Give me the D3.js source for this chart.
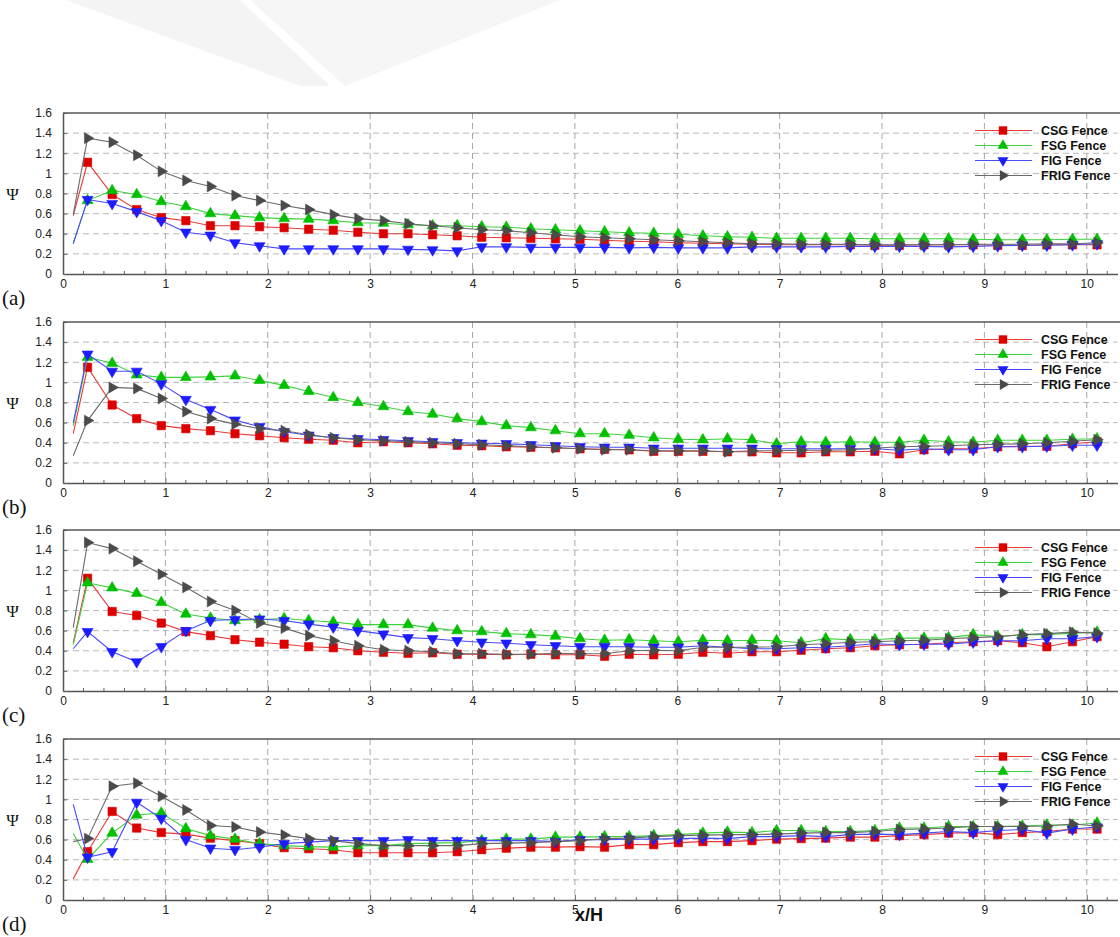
<!DOCTYPE html>
<html><head><meta charset="utf-8">
<script src="https://cdn.jsdelivr.net/npm/d3@7"></script>
<style>
html,body{margin:0;padding:0;background:#fff;}
svg{display:block;}
</style></head>
<body>
<svg id="chart" width="1120" height="937"></svg>
<script>
// x/H positions of the sampling points
const xPos = [0.1,0.24,0.48,0.72,0.96,1.20,1.44,1.68,1.92,2.16,2.40,2.64,2.88,3.13,3.37,3.61,3.85,4.09,4.33,4.57,4.81,5.05,5.29,5.53,5.77,6.01,6.25,6.49,6.73,6.97,7.21,7.45,7.69,7.93,8.17,8.41,8.65,8.89,9.13,9.37,9.61,9.86,10.10];

const seriesNames = ["CSG Fence","FSG Fence","FIG Fence","FRIG Fence"];
const panelLabels = ["(a)","(b)","(c)","(d)"];
const yTicks = [0,0.2,0.4,0.6,0.8,1,1.2,1.4,1.6];
const xTicks = [0,1,2,3,4,5,6,7,8,9,10];

// Panel (a)
const csgA = [0.58,1.11,0.79,0.64,0.56,0.53,0.48,0.48,0.47,0.46,0.445,0.435,0.415,0.40,0.40,0.39,0.38,0.365,0.36,0.355,0.35,0.345,0.335,0.325,0.32,0.31,0.305,0.30,0.295,0.29,0.29,0.29,0.29,0.285,0.285,0.29,0.29,0.29,0.285,0.285,0.29,0.29,0.29];
const fsgA = [0.31,0.73,0.83,0.79,0.72,0.67,0.60,0.58,0.56,0.55,0.545,0.53,0.51,0.505,0.49,0.48,0.48,0.47,0.465,0.45,0.44,0.43,0.42,0.41,0.405,0.395,0.38,0.37,0.365,0.355,0.355,0.355,0.355,0.35,0.35,0.35,0.35,0.345,0.34,0.34,0.34,0.345,0.345];
const figA = [0.30,0.74,0.70,0.62,0.53,0.415,0.385,0.31,0.28,0.25,0.25,0.25,0.25,0.25,0.245,0.24,0.23,0.27,0.27,0.265,0.265,0.265,0.265,0.26,0.265,0.26,0.26,0.26,0.27,0.27,0.27,0.27,0.275,0.275,0.275,0.275,0.27,0.275,0.28,0.285,0.285,0.29,0.30];
const frigA = [0.59,1.35,1.31,1.18,1.02,0.93,0.87,0.78,0.73,0.68,0.64,0.59,0.55,0.53,0.50,0.48,0.46,0.44,0.43,0.41,0.39,0.37,0.36,0.35,0.34,0.33,0.32,0.31,0.30,0.30,0.295,0.295,0.295,0.29,0.29,0.29,0.29,0.295,0.295,0.295,0.30,0.30,0.31];

// Panel (b)
const csgB = [0.49,1.15,0.775,0.64,0.57,0.54,0.52,0.49,0.47,0.45,0.435,0.425,0.40,0.41,0.40,0.39,0.375,0.37,0.36,0.355,0.35,0.34,0.335,0.33,0.315,0.315,0.315,0.31,0.31,0.30,0.30,0.31,0.31,0.315,0.29,0.33,0.34,0.34,0.36,0.365,0.365,0.39,0.41];
const fsgB = [0.57,1.25,1.19,1.075,1.05,1.05,1.055,1.065,1.02,0.97,0.91,0.85,0.80,0.76,0.71,0.685,0.64,0.61,0.57,0.55,0.52,0.49,0.49,0.475,0.45,0.435,0.43,0.44,0.43,0.39,0.41,0.405,0.41,0.405,0.405,0.425,0.41,0.405,0.425,0.425,0.425,0.435,0.44];
const figB = [0.60,1.28,1.11,1.11,0.985,0.83,0.73,0.625,0.56,0.51,0.475,0.45,0.44,0.43,0.42,0.41,0.40,0.395,0.39,0.38,0.37,0.36,0.355,0.355,0.345,0.345,0.345,0.345,0.345,0.34,0.34,0.34,0.34,0.34,0.325,0.34,0.33,0.33,0.36,0.36,0.365,0.375,0.375];
const frigB = [0.27,0.62,0.95,0.94,0.84,0.71,0.64,0.585,0.54,0.52,0.48,0.45,0.43,0.42,0.41,0.40,0.39,0.38,0.37,0.36,0.35,0.34,0.33,0.33,0.32,0.32,0.32,0.31,0.32,0.32,0.325,0.325,0.33,0.345,0.36,0.365,0.37,0.38,0.385,0.39,0.40,0.415,0.43];

// Panel (c)
const csgC = [0.48,1.12,0.79,0.75,0.675,0.59,0.55,0.51,0.485,0.465,0.44,0.43,0.40,0.385,0.375,0.38,0.365,0.365,0.36,0.365,0.36,0.36,0.345,0.365,0.36,0.365,0.385,0.375,0.39,0.39,0.405,0.42,0.43,0.45,0.46,0.465,0.48,0.49,0.50,0.48,0.44,0.49,0.54];
const fsgC = [0.46,1.075,1.025,0.97,0.88,0.765,0.725,0.70,0.71,0.72,0.70,0.685,0.66,0.66,0.66,0.625,0.60,0.59,0.57,0.56,0.545,0.52,0.505,0.51,0.50,0.49,0.505,0.50,0.505,0.50,0.48,0.52,0.51,0.51,0.525,0.525,0.53,0.56,0.54,0.56,0.56,0.575,0.585];
const figC = [0.42,0.59,0.39,0.29,0.44,0.60,0.70,0.71,0.715,0.70,0.665,0.635,0.60,0.565,0.53,0.52,0.50,0.485,0.475,0.46,0.45,0.44,0.44,0.44,0.435,0.435,0.45,0.435,0.42,0.42,0.43,0.435,0.45,0.47,0.46,0.465,0.465,0.485,0.50,0.50,0.52,0.52,0.54];
const frigC = [0.63,1.475,1.415,1.29,1.16,1.03,0.89,0.80,0.675,0.625,0.55,0.50,0.45,0.41,0.40,0.39,0.37,0.37,0.365,0.365,0.375,0.37,0.37,0.40,0.405,0.40,0.435,0.435,0.435,0.44,0.46,0.47,0.485,0.49,0.50,0.505,0.52,0.53,0.54,0.56,0.57,0.585,0.575];

// Panel (d)
const csgD = [0.21,0.48,0.88,0.715,0.67,0.655,0.615,0.59,0.56,0.52,0.51,0.50,0.47,0.47,0.47,0.47,0.48,0.50,0.515,0.525,0.525,0.53,0.525,0.55,0.55,0.57,0.58,0.58,0.59,0.605,0.61,0.615,0.625,0.625,0.64,0.65,0.665,0.67,0.65,0.67,0.68,0.705,0.705];
const fsgD = [0.66,0.405,0.665,0.845,0.865,0.71,0.64,0.605,0.56,0.54,0.53,0.525,0.54,0.54,0.56,0.565,0.57,0.59,0.605,0.605,0.625,0.625,0.63,0.63,0.64,0.65,0.665,0.675,0.67,0.69,0.69,0.68,0.68,0.69,0.715,0.715,0.73,0.73,0.73,0.735,0.745,0.745,0.765];
const figD = [0.95,0.425,0.48,0.97,0.81,0.60,0.515,0.50,0.525,0.56,0.575,0.59,0.59,0.59,0.60,0.59,0.59,0.59,0.59,0.59,0.58,0.60,0.60,0.605,0.605,0.61,0.615,0.61,0.63,0.63,0.64,0.63,0.65,0.655,0.65,0.665,0.68,0.67,0.69,0.70,0.665,0.705,0.725];
const frigD = [0.58,0.61,1.13,1.16,1.03,0.895,0.74,0.725,0.675,0.645,0.61,0.59,0.56,0.54,0.54,0.54,0.54,0.56,0.565,0.57,0.58,0.59,0.61,0.615,0.63,0.64,0.645,0.65,0.65,0.655,0.665,0.67,0.67,0.68,0.70,0.705,0.715,0.73,0.73,0.73,0.735,0.755,0.735];

const panels = [
  [csgA, fsgA, figA, frigA],
  [csgB, fsgB, figB, frigB],
  [csgC, fsgC, figC, frigC],
  [csgD, fsgD, figD, frigD]
];

// ---------- styling / layout ----------
const SANS = "'Liberation Sans', Arial, sans-serif";
const SERIF = "'Liberation Serif', 'Times New Roman', serif";
const lineColors = ["#e83a3a","#3fd23f","#4a4aff","#6a6a6a"];
const markColors = ["#dd0000","#00c000","#1c1cff","#4a4a4a"];
const markTypes = [
  {t:d3.symbolSquare, size:70, rot:0},
  {t:d3.symbolTriangle, size:52, rot:0},
  {t:d3.symbolTriangle, size:52, rot:180},
  {t:d3.symbolTriangle, size:52, rot:90}
];

const svg = d3.select("#chart");
const W = 1120;
const left = 63, right = 1117.5;
const panelTops = [113, 322, 530, 739];
const ph = 161;

// faint watermark at top
const wm = svg.append("g");
wm.append("path").attr("d","M66,0 L240,0 L330,86 L300,86 Z").attr("fill","#f4f4f4");
wm.append("path").attr("d","M250,0 L560,0 L345,86 Z").attr("fill","#f6f6f6");

const x = d3.scaleLinear().domain([0, 10.3]).range([left, right]);
const minorTicks = d3.range(0, 10.3, 0.2).filter(v => Math.abs(v - Math.round(v)) > 0.01);

panels.forEach((series, pi) => {
  const top = panelTops[pi];
  const y = d3.scaleLinear().domain([0, 1.6]).range([top + ph, top]);
  const g = svg.append("g");

  // grid
  g.selectAll(".hg").data(yTicks.filter(v => v > 0 && v < 1.6)).enter().append("line")
    .attr("x1", left).attr("x2", right)
    .attr("y1", d => y(d)).attr("y2", d => y(d))
    .attr("stroke","#b8b8b8").attr("stroke-width",1).attr("stroke-dasharray","6,4");
  g.selectAll(".vg").data(xTicks.filter(v => v > 0)).enter().append("line")
    .attr("x1", d => x(d)).attr("x2", d => x(d))
    .attr("y1", top).attr("y2", top + ph)
    .attr("stroke","#a8a8a8").attr("stroke-width",1).attr("stroke-dasharray","6,4");

  // minor ticks on bottom axis
  g.selectAll(".mt").data(minorTicks).enter().append("line")
    .attr("x1", d => x(d)).attr("x2", d => x(d))
    .attr("y1", top + ph).attr("y2", top + ph - 3)
    .attr("stroke","#666").attr("stroke-width",1);

  // axes
  const xa = d3.axisBottom(x).tickValues(xTicks).tickFormat(d3.format("d"))
    .tickSizeInner(-5).tickSizeOuter(0).tickPadding(5);
  const gx = g.append("g").attr("transform", `translate(0,${top + ph})`).call(xa);
  gx.select(".domain").attr("stroke","#555").attr("stroke-width",1.5);
  gx.selectAll(".tick line").attr("stroke","#666");
  gx.selectAll(".tick text").style("font-size","12px").style("font-family", SANS).attr("fill","#222");

  const ya = d3.axisLeft(y).tickValues(yTicks).tickFormat(d => String(+d.toFixed(1)))
    .tickSizeInner(-4).tickSizeOuter(0).tickPadding(11);
  const gy = g.append("g").attr("transform", `translate(${left},0)`).call(ya);
  gy.select(".domain").attr("stroke","#555").attr("stroke-width",1.5);
  gy.selectAll(".tick line").attr("stroke","#666");
  gy.selectAll(".tick text").style("font-size","12px").style("font-family", SANS).attr("fill","#222");

  // top border
  g.append("line").attr("x1", left).attr("x2", W).attr("y1", top).attr("y2", top)
    .attr("stroke","#555").attr("stroke-width",1.5);

  // series
  const line = d3.line().x((d,i) => x(xPos[i])).y(d => y(d));
  series.forEach((vals, si) => {
    g.append("path").datum(vals).attr("d", line)
      .attr("fill","none").attr("stroke", lineColors[si]).attr("stroke-width",1.1);
    const m = markTypes[si];
    const sym = d3.symbol().type(m.t).size(m.size);
    g.selectAll(null).data(vals.slice(1)).enter().append("path")
      .attr("d", sym)
      .attr("transform", (d,i) => `translate(${x(xPos[i+1])},${y(d)}) rotate(${m.rot})`)
      .attr("fill", markColors[si]).attr("stroke", markColors[si]).attr("stroke-width",0.6);
  });

  // legend
  const lg = g.append("g");
  seriesNames.forEach((name, si) => {
    const ly = top + 17.5 + si * 15;
    lg.append("line").attr("x1", 975).attr("x2", 1032).attr("y1", ly).attr("y2", ly)
      .attr("stroke", lineColors[si]).attr("stroke-width",1.1);
    const m = markTypes[si];
    lg.append("path").attr("d", d3.symbol().type(m.t).size(m.size))
      .attr("transform", `translate(1003,${ly}) rotate(${m.rot})`)
      .attr("fill", markColors[si]);
    lg.append("text").attr("x", 1041).attr("y", ly + 4.5).text(name)
      .style("font-family", SANS).style("font-size","12.5px").style("font-weight","bold").attr("fill","#111");
  });

  // y label
  g.append("text").attr("x", 12.5).attr("y", top + ph / 2 + 6).attr("text-anchor","middle")
    .style("font-family", SERIF).style("font-size","17px")
    .attr("fill","#111").text("Ψ");

  // panel label
  g.append("text").attr("x", 2).attr("y", top + ph + 31)
    .style("font-family", SERIF).style("font-size","21px")
    .attr("fill","#111").text(panelLabels[pi]);
});

// x-axis title
svg.append("text").attr("x", 589).attr("y", 921).attr("text-anchor","middle")
  .style("font-family", SANS).style("font-size","18px").style("font-weight","bold")
  .attr("fill","#111").text("x/H");
</script>
</body></html>
